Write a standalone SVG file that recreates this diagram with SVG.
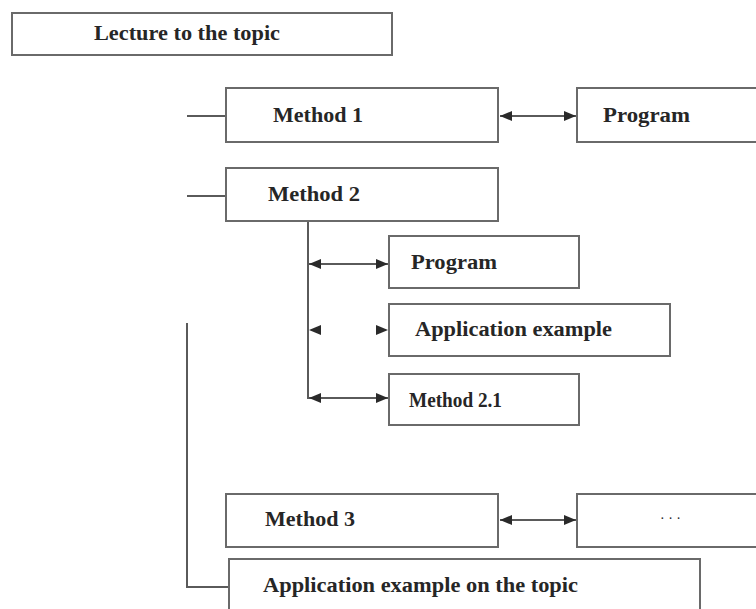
<svg xmlns="http://www.w3.org/2000/svg" width="756" height="609" viewBox="0 0 756 609">
<style>
.box{fill:#fff;stroke:#6a6a6a;stroke-width:2}
.lbl{font-family:"Liberation Serif","Times New Roman",serif;font-weight:bold;font-size:20px;fill:#262626}
.ln{fill:none;stroke:#5a5a5a;stroke-width:2}
.ar{fill:none;stroke:#5a5a5a;stroke-width:2;marker-start:url(#ah);marker-end:url(#ah)}
.hd{fill:#2a2a2a}
</style>
<defs>
<marker id="ah" viewBox="0 0 12 10" refX="12" refY="5" markerWidth="6" markerHeight="5" orient="auto-start-reverse" markerUnits="strokeWidth">
<path d="M0,0 L12,5 L0,10 Z" fill="#2a2a2a"/>
</marker>
</defs>
<rect width="756" height="609" fill="#fff"/>
<g id="connectors">
<line class="ln" x1="187" y1="116" x2="226" y2="116"/>
<line class="ln" x1="187" y1="196" x2="226" y2="196"/>
<line class="ar" x1="500" y1="116" x2="576" y2="116"/>
<polyline class="ln" points="308,221 308,398 318,398"/>
<line class="ar" x1="309" y1="264" x2="388" y2="264"/>
<line class="ar" x1="309" y1="398" x2="388" y2="398"/>
<polygon class="hd" points="309,330 321,325 321,335"/>
<polygon class="hd" points="388,330 376,325 376,335"/>
<line class="ar" x1="500" y1="520" x2="576" y2="520"/>
<polyline class="ln" points="187,323 187,587 228,587"/>
</g>
<g id="lecture">
<rect class="box" x="12" y="13" width="380" height="42"/>
<text class="lbl" x="94" y="40" textLength="186" lengthAdjust="spacingAndGlyphs">Lecture to the topic</text>
</g>
<g id="method1">
<rect class="box" x="226" y="88" width="272" height="54"/>
<text class="lbl" x="273" y="122" textLength="90" lengthAdjust="spacingAndGlyphs">Method 1</text>
</g>
<g id="program1">
<rect class="box" x="577" y="88" width="190" height="54"/>
<text class="lbl" x="603" y="122" textLength="87" lengthAdjust="spacingAndGlyphs">Program</text>
</g>
<g id="method2">
<rect class="box" x="226" y="168" width="272" height="53"/>
<text class="lbl" x="268" y="201" textLength="92" lengthAdjust="spacingAndGlyphs">Method 2</text>
</g>
<g id="program2">
<rect class="box" x="389" y="236" width="190" height="52"/>
<text class="lbl" x="411" y="269" textLength="86" lengthAdjust="spacingAndGlyphs">Program</text>
</g>
<g id="appexample">
<rect class="box" x="389" y="304" width="281" height="52"/>
<text class="lbl" x="415" y="336" textLength="197" lengthAdjust="spacingAndGlyphs">Application example</text>
</g>
<g id="method21">
<rect class="box" x="389" y="374" width="190" height="51"/>
<text class="lbl" x="409" y="407" textLength="93" lengthAdjust="spacingAndGlyphs">Method 2.1</text>
</g>
<g id="method3">
<rect class="box" x="226" y="494" width="272" height="53"/>
<text class="lbl" x="265" y="526" textLength="90" lengthAdjust="spacingAndGlyphs">Method 3</text>
</g>
<g id="dots">
<rect class="box" x="577" y="494" width="190" height="53"/>
<text class="lbl" x="660" y="523" style="font-weight:normal;font-size:14px">· · ·</text>
</g>
<g id="apptopic">
<rect class="box" x="229" y="559" width="471" height="60"/>
<text class="lbl" x="263" y="592" textLength="315" lengthAdjust="spacingAndGlyphs">Application example on the topic</text>
</g>
</svg>
